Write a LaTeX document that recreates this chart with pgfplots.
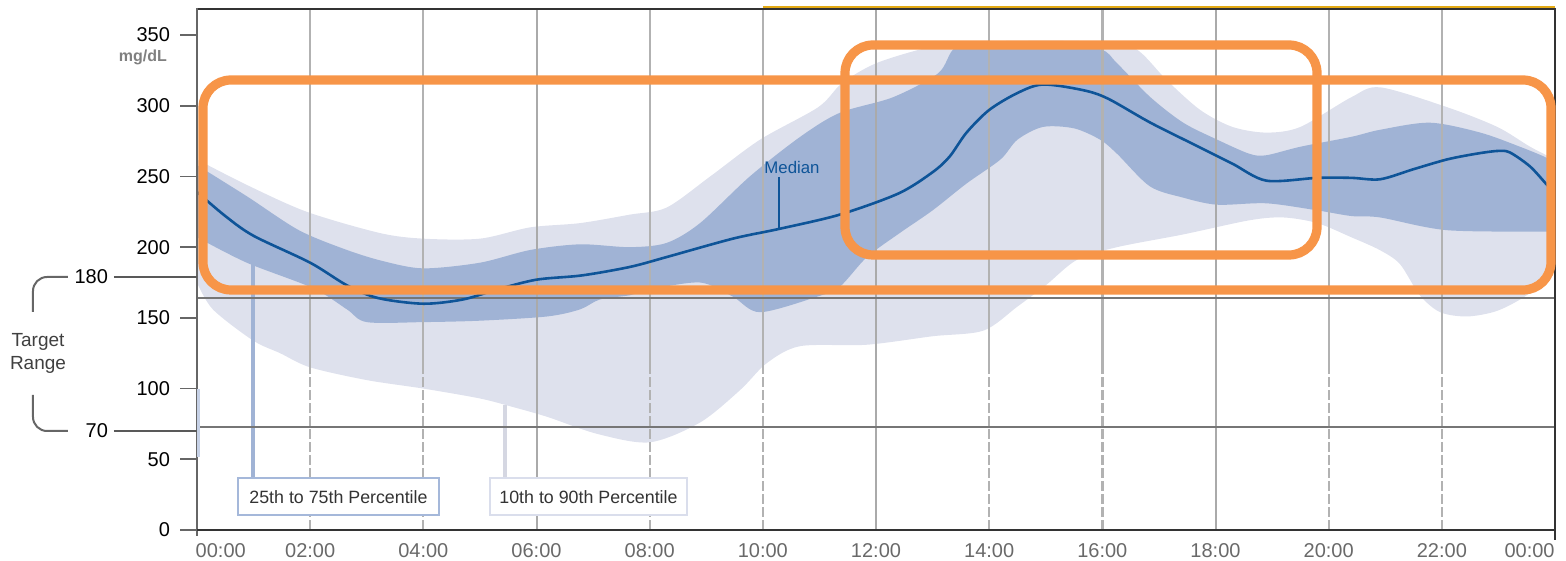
\documentclass[border=0pt]{standalone}
\usepackage{fontspec}
\setmainfont{Liberation Sans}
\usepackage{pgfplots}
\pgfplotsset{compat=1.18}
\usepgfplotslibrary{fillbetween}
\definecolor{lightband}{RGB}{222,225,237}
\definecolor{darkband}{RGB}{160,179,213}
\definecolor{medc}{RGB}{14,84,152}
\definecolor{orng}{RGB}{247,149,72}
\definecolor{gold}{RGB}{228,170,20}
\definecolor{gridc}{RGB}{178,178,178}
\definecolor{hlinec}{RGB}{118,118,118}
\definecolor{boxblue}{RGB}{165,184,218}
\definecolor{boxlight}{RGB}{218,222,236}
\definecolor{xlab}{RGB}{105,105,105}

\pgfplotstableread{
h v
0 262
0.88 244
1.94 225
3.23 210
4.0 206
5.0 206
5.89 214
6.77 217
7.65 223
8.3 228
9.07 250
9.95 276
10.98 299
11.4 316
12.0 330
12.9 341
13.6 345
15.0 346
16.0 345
16.6 340
17.14 318
17.73 297
18.3 285
18.9 281
19.5 285
20.4 306
20.91 313
22.09 299
22.98 285
23.56 271
24 262
}\pninety

\pgfplotstableread{
h v
0 258
0.88 236
1.8 212
2.65 198
3.3 190
4.0 185
5.0 189
5.89 198
6.77 202
7.65 200
8.3 203
8.89 217
9.77 250
10.66 278
11.36 295
12.3 306
13.1 323
13.4 341
14.0 344
15.0 345
15.96 340
16.26 330
16.85 306
17.43 288
18.03 276
18.6 266
18.9 265
19.5 271
20.4 278
20.91 283
21.79 288
22.68 281
23.38 271
23.86 263
24 258
}\psevfive

\pgfplotstableread{
h v
0 239
0.5 222
1.0 208
2.0 189
2.65 173
3.2 164
4.0 160
4.7 163
5.3 170
6.0 177
6.8 180
7.65 186
8.3 193
9.47 206
10.3 213
11.36 223
12.4 238
13.0 253
13.3 264
13.6 281
14.0 297
14.5 309
14.95 315
15.66 311
16.1 305
16.85 288
17.7 271
18.3 259
18.9 247
19.8 249
20.4 249
20.91 248
21.49 255
22.09 262
22.6 266
22.98 268
23.2 267
23.56 257
23.86 244
24 239
}\pmed

\pgfplotstableread{
h v
0 207
0.88 189
2.05 171
2.65 156
3.0 147
4.0 147
5.0 148
6.19 151
6.77 156
7.12 163
7.65 166
8.0 170
8.89 175
9.47 165
9.95 154
10.96 165
11.36 172
11.84 193
12.42 210
13.0 226
13.6 245
14.2 262
14.5 276
14.95 285
15.5 284
15.96 276
16.26 266
16.84 243
17.43 235
18.03 230
18.9 231
19.8 226
20.4 222
20.91 221
22.09 212
23.86 211
24 211
}\ptwofive

\pgfplotstableread{
h v
0 175
0.28 156
0.99 134
1.47 125
2.0 115
3.0 106
4.0 100
5.0 93
5.58 87
6.19 80
7.07 68
8.0 62
8.89 76
9.6 99
10.07 118
10.66 130
11.84 131
13.0 137
13.9 141
14.5 158
15.0 173
15.55 191
16.26 200
17.43 209
18.6 219
19.2 221
19.8 217
20.4 207
20.9 198
21.26 188
21.61 166
21.97 154
22.45 151
22.98 155
23.5 166
23.86 180
24 185
}\pten

\begin{document}
\begin{tikzpicture}
\begin{axis}[
  at={(0,0)}, anchor=south west, scale only axis,
  width=679pt, height=260.5pt,
  xmin=0, xmax=24, ymin=0, ymax=368.4,
  axis line style={draw=none},
  clip=true,
  xtick={2,4,...,22},
  xticklabels={02:00,04:00,06:00,08:00,10:00,12:00,14:00,16:00,18:00,20:00,22:00},
  extra x ticks={0.42,23.55},
  extra x tick labels={00:00,00:00},
  ytick={0,50,...,350},
  tick label style={font=\fontsize{10}{12}\selectfont},
  xticklabel style={text=xlab},
  yticklabel style={text=black},
  /pgf/number format/assume math mode=true,
  xtick style={draw=none},
  extra x tick style={tick style={draw=none}},
  ytick style={draw=none},
  xtick pos=bottom, ytick pos=left,
  major tick length=0pt,
  xticklabel shift=3pt,
  yticklabel shift=10pt,
]
% vertical grid lines (behind the bands)
\pgfplotsinvokeforeach{2,4,8,10,14,20,22}{
  \draw[gridc, line width=1pt] (axis cs:#1,113) -- (axis cs:#1,368.4);
  \draw[gridc, line width=1pt, dash pattern=on 5pt off 1.5pt] (axis cs:#1,0) -- (axis cs:#1,113);
}
\pgfplotsinvokeforeach{6,12,18}{
  \draw[gridc!110, line width=1pt] (axis cs:#1,0) -- (axis cs:#1,368.4);
}
\draw[gridc, line width=1.6pt] (axis cs:16,113) -- (axis cs:16,368.4);
\draw[gridc, line width=1.6pt, dash pattern=on 5pt off 1.5pt] (axis cs:16,0) -- (axis cs:16,113);

% percentile bands
\addplot[name path=p90, draw=none, smooth] table[x=h, y=v] {\pninety};
\addplot[name path=p10, draw=none, smooth] table[x=h, y=v] {\pten};
\addplot[lightband, draw=none] fill between[of=p90 and p10];
\addplot[name path=p75, draw=none, smooth] table[x=h, y=v] {\psevfive};
\addplot[name path=p25, draw=none, smooth] table[x=h, y=v] {\ptwofive};
\addplot[darkband, draw=none] fill between[of=p75 and p25];
\end{axis}

\begin{scope}[x=0.5pt, y=-0.5pt, shift={(-197,-530)}]
  % legend bars
  \draw[darkband, line width=2.2pt] (253,262) -- (253,478);
  \draw[lightband!90!gray, line width=2.2pt] (505,405) -- (505,478);
  % horizontal lines
  \draw[hlinec, line width=1pt] (198,298) -- (1555,298);
  \draw[hlinec, line width=1pt] (198,427) -- (1555,427);
\end{scope}

\begin{axis}[
  at={(0,0)}, anchor=south west, scale only axis,
  width=679pt, height=260.5pt,
  xmin=0, xmax=24, ymin=0, ymax=368.4,
  axis lines=none, ticks=none, clip=true,
]
\addplot[medc, line width=1.3pt, smooth] table[x=h, y=v] {\pmed};
\end{axis}

\begin{scope}[x=0.5pt, y=-0.5pt, shift={(-197,-530)}]
  % axis frame
  \draw[black!80, line width=1pt] (197,9) -- (1555,9);
  \draw[gold, line width=1pt] (763,7) -- (1555,7);
  \draw[black!80, line width=1.1pt] (1555,8) -- (1555,540);
  \draw[black!60, line width=1pt] (197,8) -- (197,536);
  \draw[black!80, line width=1.25pt] (197,530) -- (1555,530);
  % y ticks
  \foreach \v in {0,50,...,350} {
    \draw[black!60, line width=0.9pt] (180,{530-1.4143*\v}) -- (197,{530-1.4143*\v});
  }
  % small artifact on left axis
  \draw[darkband!60, line width=1.2pt] (198.5,389) -- (198.5,457);
  % legend boxes
  \draw[boxblue, line width=0.8pt, fill=white] (238,478) rectangle (439,515);
  \node[text=black!80, font=\fontsize{8.9}{10}\selectfont] at (338.5,497) {25th to 75th Percentile};
  \draw[boxlight, line width=0.8pt, fill=white] (490,478) rectangle (687,515);
  \node[text=black!80, font=\fontsize{8.9}{10}\selectfont] at (588.5,497) {10th to 90th Percentile};
  % median label
  \draw[medc, line width=0.7pt] (779,177) -- (779,229);
  \node[text=medc, font=\fontsize{8.4}{10}\selectfont] at (792,168) {Median};
  % unit label
  \node[anchor=east, text=black!50, font=\bfseries\fontsize{8}{10}\selectfont] at (174,57) {mg/dL};
  % target range annotation
  \node[anchor=east, font=\fontsize{10}{12}\selectfont] at (115,277) {180};
  \node[anchor=east, font=\fontsize{10}{12}\selectfont] at (115,431) {70};
  \draw[black!65, line width=1.1pt] (114,277) -- (197,277);
  \draw[black!65, line width=1.1pt] (114,431) -- (197,431);
  \draw[black!60, line width=1pt, rounded corners=7pt] (68,277) -- (33,277) -- (33,312);
  \draw[black!60, line width=1pt, rounded corners=7pt] (33,395) -- (33,431) -- (68,431);
  \node[align=center, text=black!75, font=\fontsize{9.5}{11.5}\selectfont] at (38,353) {Target\\Range};
  % orange highlight frames
  \draw[orng, line width=4.6pt, rounded corners=14pt] (203,80) rectangle (1551,290);
  \draw[orng, line width=4.6pt, rounded corners=14pt] (845,45) rectangle (1317,255);
  % bounding box
  \pgfresetboundingbox
  \useasboundingbox (0,0) rectangle (1566,561);
\end{scope}
\end{tikzpicture}
\end{document}
